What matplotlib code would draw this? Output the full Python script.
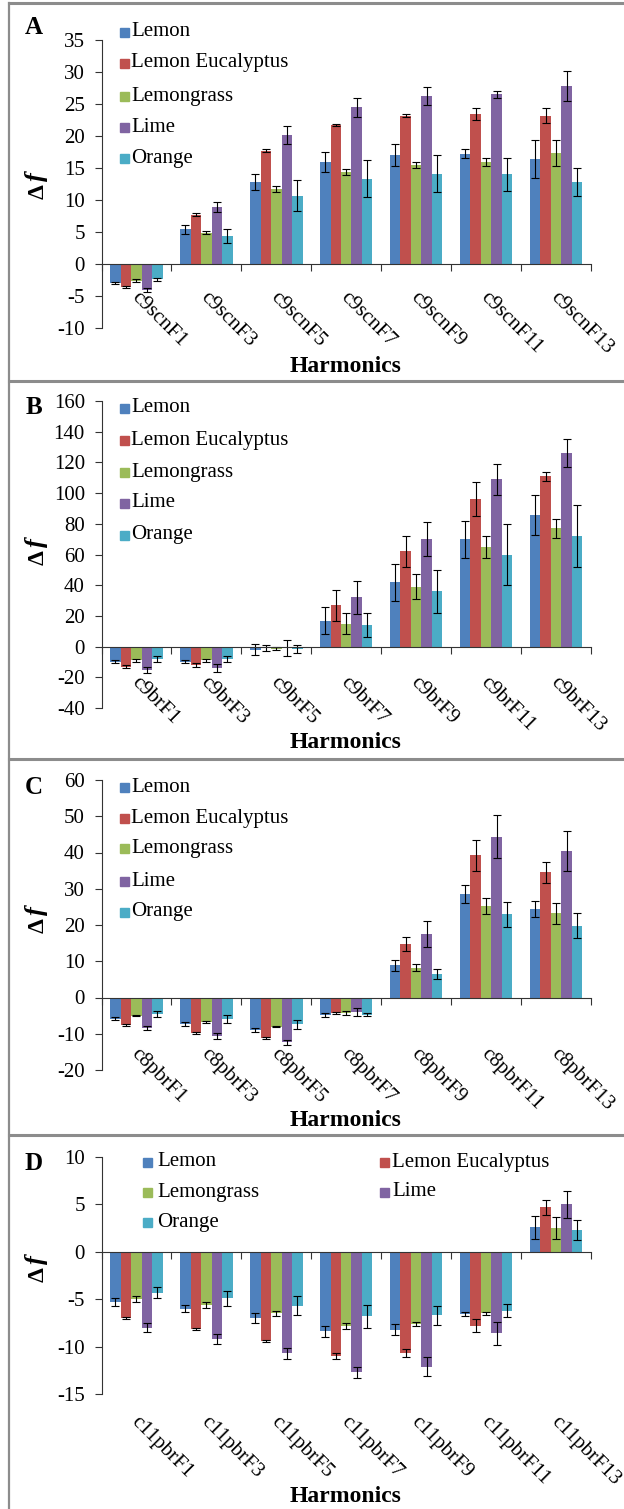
import numpy as np
import matplotlib
matplotlib.use("Agg")
import matplotlib.pyplot as plt
from matplotlib.transforms import blended_transform_factory
from matplotlib.patches import Rectangle
from matplotlib.lines import Line2D

plt.rcParams['font.family'] = ['Liberation Serif', 'DejaVu Serif']
plt.rcParams['axes.unicode_minus'] = False

series = ["Lemon", "Lemon Eucalyptus", "Lemongrass", "Lime", "Orange"]
colors = ["#4F81BD", "#C0504D", "#9BBB59", "#8064A2", "#4BACC6"]

# ---- Panel A: c9scn ----
cats_A = ["c9scnF1", "c9scnF3", "c9scnF5", "c9scnF7", "c9scnF9", "c9scnF11", "c9scnF13"]
lemon_A = [-3.0, 5.4, 12.8, 15.9, 17.0, 17.2, 16.4]
lemoneuc_A = [-3.6, 7.7, 17.7, 21.7, 23.2, 23.4, 23.2]
lemongrass_A = [-2.6, 4.9, 11.7, 14.4, 15.5, 15.9, 17.3]
lime_A = [-4.0, 8.9, 20.1, 24.5, 26.3, 26.5, 27.8]
orange_A = [-2.4, 4.4, 10.7, 13.3, 14.1, 14.0, 12.8]
err_lemon_A = [0.2, 0.7, 1.3, 1.6, 1.7, 0.7, 3.0]
err_lemoneuc_A = [0.1, 0.2, 0.2, 0.2, 0.2, 0.9, 1.1]
err_lemongrass_A = [0.2, 0.2, 0.5, 0.5, 0.5, 0.6, 2.0]
err_lime_A = [0.3, 0.8, 1.4, 1.5, 1.4, 0.6, 2.4]
err_orange_A = [0.2, 1.1, 2.4, 2.9, 2.9, 2.6, 2.2]

# ---- Panel B: c9br ----
cats_B = ["c9brF1", "c9brF3", "c9brF5", "c9brF7", "c9brF9", "c9brF11", "c9brF13"]
lemon_B = [-10, -10, -2, 17, 42, 70, 86]
lemoneuc_B = [-13, -12, -1, 27, 62, 96, 111]
lemongrass_B = [-9, -9, -1.5, 15, 39, 65, 77]
lime_B = [-15, -14, -1, 32, 70, 109, 126]
orange_B = [-8, -8, -1.5, 14, 36, 60, 72]
err_lemon_B = [1, 1, 3.5, 9, 12, 12, 13]
err_lemoneuc_B = [1, 1, 2, 10, 10, 11, 3]
err_lemongrass_B = [1, 1, 1, 7, 8, 7, 6]
err_lime_B = [2, 2.5, 5, 11, 11, 10, 9]
err_orange_B = [2, 2, 2.5, 8, 14, 20, 20]

# ---- Panel C: c8pbr ----
cats_C = ["c8pbrF1", "c8pbrF3", "c8pbrF5", "c8pbrF7", "c8pbrF9", "c8pbrF11", "c8pbrF13"]
lemon_C = [-5.8, -7.3, -9.0, -4.8, 8.9, 28.5, 24.5]
lemoneuc_C = [-7.6, -9.7, -11.2, -4.2, 14.8, 39.2, 34.5]
lemongrass_C = [-5.0, -6.7, -8.0, -4.3, 8.2, 25.2, 23.2]
lime_C = [-8.5, -10.6, -12.3, -4.0, 17.5, 44.4, 40.4]
orange_C = [-4.5, -5.9, -7.4, -4.8, 6.5, 22.9, 19.8]
err_lemon_C = [0.5, 0.5, 0.5, 0.6, 1.5, 2.5, 2.2]
err_lemoneuc_C = [0.2, 0.3, 0.3, 0.3, 2.0, 4.3, 3.0]
err_lemongrass_C = [0.2, 0.2, 0.2, 0.5, 1.0, 2.2, 2.8]
err_lime_C = [0.6, 0.9, 0.7, 1.0, 3.6, 6.0, 5.6]
err_orange_C = [0.8, 1.0, 1.2, 0.4, 1.4, 3.5, 3.4]

# ---- Panel D: c11pbr ----
cats_D = ["c11pbrF1", "c11pbrF3", "c11pbrF5", "c11pbrF7", "c11pbrF9", "c11pbrF11", "c11pbrF13"]
lemon_D = [-5.3, -6.0, -7.0, -8.4, -8.2, -6.6, 2.6]
lemoneuc_D = [-7.0, -8.1, -9.4, -11.0, -10.7, -7.8, 4.7]
lemongrass_D = [-5.0, -5.6, -6.5, -7.8, -7.6, -6.5, 2.5]
lime_D = [-8.0, -9.2, -10.7, -12.7, -12.1, -8.6, 5.0]
orange_D = [-4.3, -4.9, -5.7, -6.8, -6.7, -6.2, 2.3]
err_lemon_D = [0.4, 0.4, 0.5, 0.6, 0.6, 0.2, 1.2]
err_lemoneuc_D = [0.1, 0.1, 0.1, 0.3, 0.4, 0.7, 0.8]
err_lemongrass_D = [0.3, 0.3, 0.3, 0.3, 0.2, 0.2, 1.2]
err_lime_D = [0.5, 0.5, 0.6, 0.6, 1.0, 1.2, 1.4]
err_orange_D = [0.6, 0.8, 1.0, 1.2, 1.0, 0.7, 1.1]

W, H = 624, 1509
fig = plt.figure(figsize=(W / 100, H / 100), dpi=100)


def fx(px):
    return px / W


def fy(py):
    return 1 - py / H


panels = [
    dict(letter="A", cats=cats_A,
         vals=[lemon_A, lemoneuc_A, lemongrass_A, lime_A, orange_A],
         errs=[err_lemon_A, err_lemoneuc_A, err_lemongrass_A, err_lime_A, err_orange_A],
         ylim=(-10, 35), step=5, top=40, bot=328, lab_y=288, harm_y=367,
         letter_y=27, df_y=184, legend="col", leg_rows=[32, 63, 96, 127, 158]),
    dict(letter="B", cats=cats_B,
         vals=[lemon_B, lemoneuc_B, lemongrass_B, lime_B, orange_B],
         errs=[err_lemon_B, err_lemoneuc_B, err_lemongrass_B, err_lime_B, err_orange_B],
         ylim=(-40, 160), step=20, top=401, bot=708, lab_y=673, harm_y=743,
         letter_y=408, df_y=550, legend="col", leg_rows=[408, 440, 472, 503, 535]),
    dict(letter="C", cats=cats_C,
         vals=[lemon_C, lemoneuc_C, lemongrass_C, lime_C, orange_C],
         errs=[err_lemon_C, err_lemoneuc_C, err_lemongrass_C, err_lime_C, err_orange_C],
         ylim=(-20, 60), step=10, top=780, bot=1070, lab_y=1045, harm_y=1120,
         letter_y=787, df_y=918, legend="col", leg_rows=[787, 818, 849, 881, 912]),
    dict(letter="D", cats=cats_D,
         vals=[lemon_D, lemoneuc_D, lemongrass_D, lime_D, orange_D],
         errs=[err_lemon_D, err_lemoneuc_D, err_lemongrass_D, err_lime_D, err_orange_D],
         ylim=(-15, 10), step=5, top=1157, bot=1394, lab_y=1413, harm_y=1497,
         letter_y=1163, df_y=1267, legend="grid", leg_rows=[1162, 1192, 1222]),
]

AX_L, AX_R = 101.5, 591
FS_TICK = 15
FS_LEG = 15
bw = 0.15

for p in panels:
    ax = fig.add_axes([fx(AX_L), fy(p["bot"]), fx(AX_R - AX_L), (p["bot"] - p["top"]) / H])
    n = len(p["cats"])
    x = np.arange(n)
    for k, (vals, errs) in enumerate(zip(p["vals"], p["errs"])):
        ax.bar(x + (k - 2) * bw, vals, width=bw, color=colors[k], yerr=errs,
               error_kw=dict(ecolor="black", elinewidth=0.8, capsize=2.6, capthick=0.8),
               zorder=2)
    ax.set_xlim(-0.5, n - 0.5)
    ax.set_ylim(*p["ylim"])
    ax.set_yticks(np.arange(p["ylim"][0], p["ylim"][1] + 0.1, p["step"]))
    ax.spines["top"].set_visible(False)
    ax.spines["right"].set_visible(False)
    ax.spines["bottom"].set_position(("data", 0))
    ax.spines["left"].set_color("#333333")
    ax.spines["bottom"].set_color("#333333")
    ax.spines["left"].set_linewidth(0.8)
    ax.spines["bottom"].set_linewidth(0.8)
    ax.set_xticks(np.arange(-0.5, n, 1.0))
    ax.set_xticklabels([])
    ax.tick_params(axis="x", direction="out", length=5, width=0.8, color="#333333")
    ax.tick_params(axis="y", direction="out", length=5, width=0.8, color="#333333",
                   pad=7, labelsize=FS_TICK)
    ax.patch.set_alpha(0)

    # rotated category labels
    tr = blended_transform_factory(ax.transData, fig.transFigure)
    for i, c in enumerate(p["cats"]):
        ax.text(i + 0.06, fy(p["lab_y"]), c, transform=tr, rotation=-45,
                rotation_mode="anchor", ha="left", va="top", fontsize=FS_TICK,
                clip_on=False)

    fig.text(fx(346), fy(p["harm_y"]), "Harmonics", ha="center", va="center",
             fontsize=17, fontweight="bold")
    fig.text(fx(34), fy(p["letter_y"]), p["letter"], ha="center", va="center",
             fontsize=18, fontweight="bold")
    fig.text(fx(38), fy(p["df_y"] + 8), "Δ", ha="center", va="center", rotation=90,
             fontsize=17, fontweight="bold")
    fig.text(fx(37), fy(p["df_y"] - 7), "f", ha="center", va="center", rotation=90,
             fontsize=19, fontweight="bold", style="italic")

    # legend
    sq = 9
    if p["legend"] == "col":
        for k, name in enumerate(series):
            yc = p["leg_rows"][k]
            fig.add_artist(Rectangle((fx(120), fy(yc + sq / 2)), sq / W, sq / H,
                                     transform=fig.transFigure, color=colors[k]))
            fig.text(fx(131), fy(yc), name, ha="left", va="center", fontsize=FS_LEG)
    else:
        pos = [(0, 0), (1, 0), (0, 1), (1, 1), (0, 2)]
        colx = [(143, 157), (380, 392)]
        for k, name in enumerate(series):
            c, r = pos[k]
            yc = p["leg_rows"][r]
            sx, tx = colx[c]
            fig.add_artist(Rectangle((fx(sx), fy(yc + sq / 2)), sq / W, sq / H,
                                     transform=fig.transFigure, color=colors[k]))
            fig.text(fx(tx), fy(yc), name, ha="left", va="center", fontsize=FS_LEG)

# panel borders
border_c = "#8c8c8c"
fig.add_artist(Line2D([fx(9), fx(9)], [fy(3), fy(H)], transform=fig.transFigure,
                      color=border_c, lw=1.6))
for yb in [3, 381, 759, 1135]:
    fig.add_artist(Line2D([fx(9), fx(W)], [fy(yb), fy(yb)], transform=fig.transFigure,
                          color=border_c, lw=2.2))

fig.savefig("out.png", dpi=100)
